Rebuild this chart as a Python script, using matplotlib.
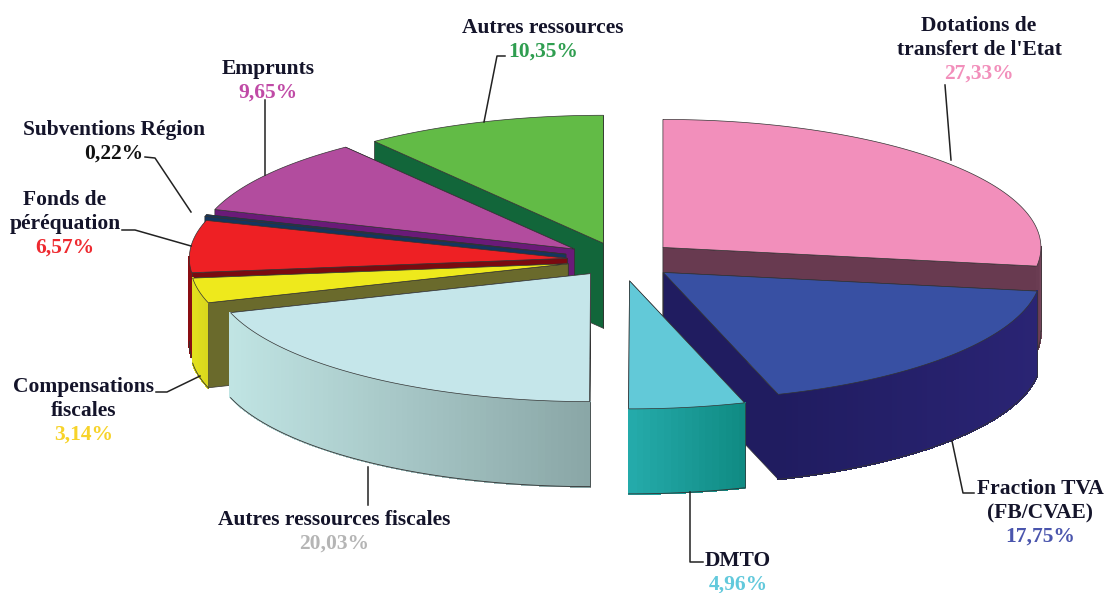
import numpy as np
import matplotlib
matplotlib.use('Agg')
import matplotlib.pyplot as plt
from matplotlib.colors import to_rgb

# parts of the pie, clockwise from 12 o'clock
names = ['Dotations de\ntransfert de l\'Etat', 'Fraction TVA\n(FB/CVAE)', 'DMTO',
         'Autres ressources fiscales', 'Compensations\nfiscales',
         'Fonds de\npéréquation', 'Subventions Région', 'Emprunts',
         'Autres ressources']
shares = [27.33, 17.75, 4.96, 20.03, 3.14, 6.57, 0.22, 9.65, 10.35]

# pie layout, in pixels
CX, CY = 620, 260
RX, RY = 378, 128
DEPTH = 85
explode = [0.150, 0.150, 0.165, 0.132, 0.140, 0.140, 0.150, 0.148, 0.138]

top_cols = ['#f28fbb', '#3850a3', '#62c9d8', '#c5e6ea', '#eee91c', '#ee2024',
            '#14365f', '#b24c9e', '#62bb46']
cut_cols = ['#683a50', '#201c60', '#201c60', '#8fb0b0', '#6a6a2c', '#7a0a10',
            '#14365f', '#6a1a78', '#12663a']
wall_left = ['#683a50', '#201c60', '#25abab', '#c0e4e3', '#e2e01e', '#8a0d12',
             '#14365f', '#6a1a78', '#12663a']
wall_right = ['#7a4a60', '#2a2474', '#0f8a82', '#8aa6a6', '#d8d61c', '#8a0d12',
              '#14365f', '#6a1a78', '#12663a']
pct_cols = ['#f28fbb', '#4a55ad', '#62c9dc', '#b5b5b5', '#f7d32a', '#ee2a30',
            '#111111', '#c04aa6', '#2f9e50']

# painter's order, back to front
draw_order = [0, 8, 7, 6, 5, 4, 1, 3, 2]

# text anchors (centre x, first line y), leader polylines
label_xy = [(979, 26), (1040, 489), (738, 561), (334, 520), (84, 387), (65, 200),
            (114, 130), (268, 69), (543, 28)]
leaders = [[(945, 85), (951, 160)],
           [(952, 441), (963, 493), (974, 493)],
           [(690, 492), (690, 562), (703, 562)],
           [(368, 505), (368, 467)],
           [(156, 392), (167, 392), (200, 376)],
           [(122, 230), (135, 230), (191, 246)],
           [(145, 157), (155, 158), (191, 212)],
           [(265, 100), (265, 175)],
           [(505, 56), (497, 56), (484, 122)]]

EDGE = '#333333'
LINE_STEP = 24


def ellipse_pt(x0, y0, t):
    return x0 + RX * np.sin(t), y0 - RY * np.cos(t)


fig = plt.figure(figsize=(11.05, 5.93), dpi=100)
ax = fig.add_axes([0, 0, 1, 1])
ax.set_xlim(0, 1105)
ax.set_ylim(593, 0)
ax.axis('off')

edges = np.radians(np.concatenate([[0], np.cumsum(shares)]) * 3.6)

z = 1
for i in draw_order:
    t0, t1 = edges[i], edges[i + 1]
    mid = (t0 + t1) / 2
    x0 = CX + explode[i] * RX * np.sin(mid)
    y0 = CY - explode[i] * RY * np.cos(mid)
    ts = np.linspace(t0, t1, max(int(np.degrees(t1 - t0)), 2) + 1)
    xs, ys = ellipse_pt(x0, y0, ts)

    # the two cut faces of the slice
    for t in sorted([t0, t1], key=lambda a: -np.cos(a)):
        xe, ye = ellipse_pt(x0, y0, t)
        ax.fill([x0, xe, xe, x0], [y0, ye, ye + DEPTH, y0 + DEPTH],
                fc=cut_cols[i], ec=EDGE, lw=0.5, zorder=z)
        z += 1

    # outer wall, front half only, shaded in thin strips
    idx = np.where(np.cos(ts) <= 0.02)[0]
    if len(idx) > 1:
        c0, c1 = np.array(to_rgb(wall_left[i])), np.array(to_rgb(wall_right[i]))
        xmin, xmax = xs[idx].min(), xs[idx].max()
        for a, b in zip(idx[:-1], idx[1:]):
            f = ((xs[a] + xs[b]) / 2 - xmin) / max(xmax - xmin, 1)
            col = c0 + (c1 - c0) * f
            ax.fill([xs[a], xs[b], xs[b], xs[a]],
                    [ys[a], ys[b], ys[b] + DEPTH, ys[a] + DEPTH],
                    fc=col, ec=col, lw=0.8, antialiased=False, zorder=z)
        ax.plot(xs[idx], ys[idx] + DEPTH, color=EDGE, lw=0.6, zorder=z)
        ax.plot([xs[idx[0]]] * 2, [ys[idx[0]], ys[idx[0]] + DEPTH], color=EDGE, lw=0.5, zorder=z)
        z += 1

    # top face
    ax.fill(np.r_[x0, xs], np.r_[y0, ys], fc=top_cols[i], ec=EDGE, lw=0.5, zorder=z)
    z += 1

font = dict(family=['Liberation Serif', 'DejaVu Serif'], fontweight='bold', fontsize=15.5,
            ha='center', va='center', zorder=z + 2)

for i, name in enumerate(names):
    lx, ly = label_xy[i]
    lines = name.split('\n')
    for k, line in enumerate(lines):
        ax.text(lx, ly + k * LINE_STEP, line, color='#14142a', **font)
    pct = f'{shares[i]:.2f}%'.replace('.', ',')
    ax.text(lx, ly + len(lines) * LINE_STEP, pct, color=pct_cols[i], **font)
    px, py = zip(*leaders[i])
    ax.plot(px, py, color='#222222', lw=1.1, zorder=z + 1)

fig.savefig('out.png', dpi=100)
plt.close(fig)
